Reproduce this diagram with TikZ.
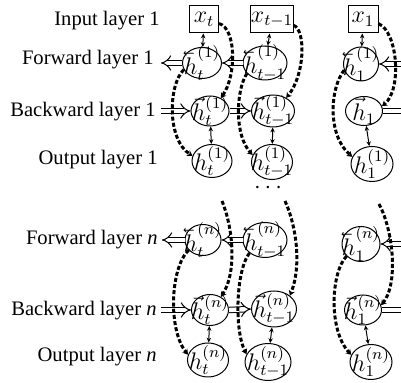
\documentclass[tikz,border=0pt]{standalone}
\usepackage[no-math]{fontspec}
\setmainfont{Liberation Serif}
\usetikzlibrary{arrows.meta,shapes.geometric}
% arrow accent pointing left, made by mirroring \vec
\newcommand\leftvec[1]{\reflectbox{$\vec{\reflectbox{$#1$}}$}}
\newcommand\lblsize{\fontsize{10.3}{12}\selectfont}
\newcommand\mathsz{\fontsize{11.8}{14}\selectfont}
\tikzset{
  box/.style={draw, line width=0.5pt, rectangle, minimum height=13.5pt, inner sep=0pt, font=\mathsz},
  hnode/.style={draw, ellipse, inner sep=0pt, line width=0.5pt},
  hlab/.style={inner sep=0pt, font=\mathsz},
  lbl/.style={anchor=east, inner sep=0pt, font=\lblsize},
  hollow/.style={double, double distance=2.2pt, line width=0.5pt, -{Implies}},
  link/.style={line width=0.5pt, {Stealth[length=2.4pt,width=2.2pt]}-{Stealth[length=2.4pt,width=2.2pt]}},
  skip/.style={line width=1.5pt, dash pattern=on 2pt off 1.1pt, -{Stealth[length=2.6pt,width=3.2pt]}}
}
\begin{document}
\begin{tikzpicture}[x=0.5pt, y=-0.5pt]
\useasboundingbox (0,0) rectangle (401,383);
\clip (0,0) rectangle (401,383);

% row labels
\node[lbl] (lin1) at (160,21) {Input layer 1};
\node[lbl] (lf1) at (154,60) {Forward layer 1};
\node[lbl] (lb1) at (156,112) {Backward layer 1};
\node[lbl] (lo1) at (158,160) {Output layer 1};
\node[lbl] (lfn) at (158,240) {Forward layer \textit{n}};
\node[lbl] (lbn) at (157,311) {Backward layer \textit{n}};
\node[lbl] (lon) at (157,357) {Output layer \textit{n}};

% inputs
\node[box, minimum width=14.5pt] (xt) at (204,19.5) {$x_t$};
\node[box, minimum width=21pt] (xtm) at (272,19.5) {$x_{t-1}$};
\node[box, minimum width=15pt] (x1) at (363,19.5) {$x_1$};

% layer 1
\node[hnode, minimum width=19.5pt, minimum height=15.5pt, label={[hlab]center:{$\leftvec{h}_t^{(1)}$}}] (Ft) at (202,63) {};
\node[hnode, minimum width=22pt, minimum height=17pt, label={[hlab]center:{$\leftvec{h}_{t-1}^{(1)}$}}] (Ftm) at (265,63) {};
\node[hnode, minimum width=17.5pt, minimum height=17pt, label={[hlab]center:{$\leftvec{h}_1^{(1)}$}}] (F1) at (361,64) {};
\node[hnode, minimum width=19pt, minimum height=15pt, label={[hlab]center:{$\vec{h}_t^{(1)}$}}] (Bt) at (210,111) {};
\node[hnode, minimum width=21.5pt, minimum height=16pt, label={[hlab]center:{$\vec{h}_{t-1}^{(1)}$}}] (Btm) at (273,111) {};
\node[hnode, minimum width=18.5pt, minimum height=14.5pt, label={[hlab]center:{$\vec{h}_1$}}] (B1) at (364,111) {};
\node[hnode, minimum width=20pt, minimum height=16.5pt, label={[hlab]center:{$h_t^{(1)}$}}] (Ot) at (212,161) {};
\node[hnode, minimum width=20.5pt, minimum height=17.5pt, label={[hlab]center:{$h_{t-1}^{(1)}$}}] (Otm) at (272,162) {};
\node[hnode, minimum width=21pt, minimum height=17.5pt, label={[hlab]center:{$h_1^{(1)}$}}] (O1) at (372,164) {};

\node[inner sep=0pt, font=\mathsz] (dots) at (268,188) {$\cdots$};

% layer n
\node[hnode, minimum width=18pt, minimum height=15.5pt, label={[hlab]center:{$\leftvec{h}_t^{(n)}$}}] (Fnt) at (203,240) {};
\node[hnode, minimum width=22pt, minimum height=17.5pt, label={[hlab]center:{$\leftvec{h}_{t-1}^{(n)}$}}] (Fntm) at (265,240) {};
\node[hnode, minimum width=19pt, minimum height=17.5pt, label={[hlab]center:{$\leftvec{h}_1^{(n)}$}}] (Fn1) at (361,244) {};
\node[hnode, minimum width=18.5pt, minimum height=15.5pt, label={[hlab]center:{$\vec{h}_t^{(n)}$}}] (Bnt) at (210,310) {};
\node[hnode, minimum width=22.5pt, minimum height=18pt, label={[hlab]center:{$\vec{h}_{t-1}^{(n)}$}}] (Bntm) at (274,309) {};
\node[hnode, minimum width=18.5pt, minimum height=15pt, label={[hlab]center:{$\vec{h}_1^{(n)}$}}] (Bn1) at (363,310) {};
\node[hnode, minimum width=20.5pt, minimum height=17pt, label={[hlab]center:{$h_t^{(n)}$}}] (Ont) at (208,360) {};
\node[hnode, minimum width=23pt, minimum height=18.5pt, label={[hlab]center:{$h_{t-1}^{(n)}$}}] (Ontm) at (268,362) {};
\node[hnode, minimum width=21pt, minimum height=17.5pt, label={[hlab]center:{$h_1^{(n)}$}}] (On1) at (371,362) {};

% free ends of the connectors
\coordinate (fa1) at (161,63);
\coordinate (ba1) at (161,111);
\coordinate (fan) at (162,240);
\coordinate (ban) at (161,310);
\coordinate (rf1) at (412,64);
\coordinate (rb1) at (412,111);
\coordinate (rfn) at (412,244);
\coordinate (rbn) at (412,310);
\coordinate (sn1) at (222,201);
\coordinate (sn2) at (285,201);
\coordinate (sn3) at (379,204);

% recurrent connections
\draw[hollow] (Ft.west) -- (fa1);
\draw[hollow] (Ftm.west) -- (Ft.east);
\draw[hollow] (rf1) -- (F1.east);
\draw[hollow] (ba1) -- (Bt.west);
\draw[hollow] (Bt.east) -- (Btm.west);
\draw[hollow] (B1.east) -- (rb1);
\draw[hollow] (Fnt.west) -- (fan);
\draw[hollow] (Fntm.west) -- (Fnt.east);
\draw[hollow] (rfn) -- (Fn1.east);
\draw[hollow] (ban) -- (Bnt.west);
\draw[hollow] (Bnt.east) -- (Bntm.west);
\draw[hollow] (Bn1.east) -- (rbn);

% vertical links
\draw[link] (xt) -- (Ft);
\draw[link] (xtm) -- (Ftm);
\draw[link] (x1) -- (F1);
\draw[link] (Bt) -- (Ot);
\draw[link] (Btm) -- (Otm);
\draw[link] (B1) -- (O1);
\draw[link] (Bnt) -- (Ont);
\draw[link] (Bntm) -- (Ontm);
\draw[link] (Bn1) -- (On1);

% skip connections
\draw[skip] (xt.-15) .. controls (236,28) and (237,75) .. (Bt.50);
\draw[skip] (xtm.-15) .. controls (306,30) and (305,75) .. (Btm.45);
\draw[skip] (x1.-15) .. controls (398,32) and (402,90) .. (B1.15);
\draw[skip] (Ft.200) .. controls (168,85) and (167,140) .. (Ot.165);
\draw[skip] (Ftm.210) .. controls (236,90) and (234,135) .. (Otm.160);
\draw[skip] (F1.200) .. controls (330,88) and (327,135) .. (O1.160);
\draw[skip] (sn1) .. controls (232,225) and (238,270) .. (Bnt.50);
\draw[skip] (sn2) .. controls (296,225) and (302,265) .. (Bntm.40);
\draw[skip] (sn3) .. controls (394,232) and (398,285) .. (Bn1.15);
\draw[skip] (Fnt.215) .. controls (170,268) and (168,330) .. (Ont.165);
\draw[skip] (Fntm.220) .. controls (236,270) and (234,330) .. (Ontm.160);
\draw[skip] (Fn1.220) .. controls (331,272) and (328,330) .. (On1.160);
\end{tikzpicture}
\end{document}
